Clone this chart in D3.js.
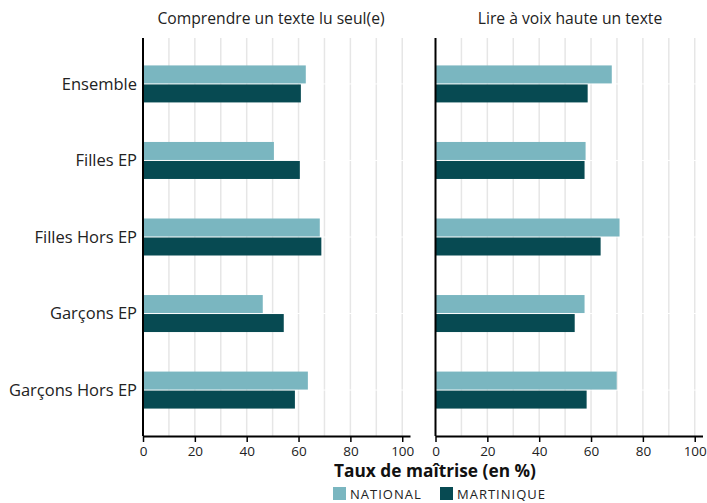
<!DOCTYPE html>
<html><head><meta charset="utf-8">
<script src="https://cdn.jsdelivr.net/npm/d3@7"></script>
<style>
html,body{margin:0;padding:0;background:#fff;}
svg{display:block;font-family:"Open Sans",sans-serif;}
</style></head>
<body><svg id="c" width="707" height="503"></svg>
<script>
const categories = ["Ensemble","Filles EP","Filles Hors EP","Garçons EP","Garçons Hors EP"];
const panels = ["Comprendre un texte lu seul(e)","Lire à voix haute un texte"];
const seriesNames = ["NATIONAL","MARTINIQUE"];
const colors = ["#7ab6c0","#074a52"];
const comprendreNational = [62.8, 50.5, 68.2, 46.2, 63.6];
const comprendreMartinique = [60.9, 60.5, 68.8, 54.3, 58.6];
const lireNational = [68.0, 57.9, 71.0, 57.5, 69.9];
const lireMartinique = [58.7, 57.5, 63.7, 53.7, 58.3];
const xTicks = [0,20,40,60,80,100];
const gridTicks = [10,20,30,40,50,60,70,80,90,100];
const axisTitle = "Taux de maîtrise (en %)";

const panelData = [
  [comprendreNational, comprendreMartinique],
  [lireNational, lireMartinique]
];

const svg = d3.select("#c");
const plotTop = 38, plotBottom = 436;
const panelX = [143, 435.5];
const panelW = 267;
const barH = 18, gap = 1;

const y = d3.scalePoint().domain(categories).range([plotTop, plotBottom]).padding(0.6);

panelData.forEach((series, pi) => {
  const x = d3.scaleLinear().domain([0, 103]).range([panelX[pi], panelX[pi] + panelW]);
  const g = svg.append("g");
  g.selectAll("line.grid").data(gridTicks).join("line")
    .attr("x1", d => x(d)).attr("x2", d => x(d))
    .attr("y1", plotTop).attr("y2", plotBottom)
    .attr("stroke", "#e6e6e6").attr("stroke-width", 1.5);
  g.selectAll("line.sep").data(categories).join("line")
    .attr("x1", x(0)).attr("x2", x(103))
    .attr("y1", d => y(d)).attr("y2", d => y(d))
    .attr("stroke", "#fff").attr("stroke-width", gap);
  series.forEach((vals, si) => {
    g.selectAll(null).data(vals).join("rect")
      .attr("x", x(0))
      .attr("y", (d, i) => si === 0 ? y(categories[i]) - gap/2 - barH : y(categories[i]) + gap/2)
      .attr("width", d => x(d) - x(0))
      .attr("height", barH)
      .attr("fill", colors[si]);
  });
  const ax = svg.append("g").attr("transform", `translate(0,${plotBottom})`)
    .call(d3.axisBottom(x).tickValues(xTicks).tickSize(6).tickPadding(4).tickSizeOuter(0));
  ax.select(".domain").attr("stroke", "#000").attr("stroke-width", 2);
  ax.selectAll(".tick line").attr("stroke", "#000").attr("stroke-width", 1.5);
  ax.selectAll(".tick text").attr("font-size", 13.5).attr("fill", "#222").attr("font-family", "'Open Sans',sans-serif");
  svg.append("line").attr("x1", x(0)).attr("x2", x(0)).attr("y1", plotTop).attr("y2", plotBottom)
    .attr("stroke", "#000").attr("stroke-width", 2);
  svg.append("text").attr("x", pi === 0 ? 271 : 570).attr("y", 24)
    .attr("text-anchor", "middle").attr("font-size", 15.7).attr("fill", "#222")
    .text(panels[pi]);
});

svg.selectAll("text.cat").data(categories).join("text")
  .attr("x", 137).attr("y", d => y(d)).attr("dy", "0.35em")
  .attr("text-anchor", "end").attr("font-size", 16.5).attr("fill", "#222")
  .text(d => d);

svg.append("text").attr("x", 435).attr("y", 477).attr("text-anchor", "middle")
  .attr("font-size", 17.3).attr("font-weight", "bold").attr("fill", "#111").text(axisTitle);

const legX = [333, 440];
seriesNames.forEach((s, i) => {
  svg.append("rect").attr("x", legX[i]).attr("y", 487).attr("width", 13).attr("height", 13).attr("fill", colors[i]);
  svg.append("text").attr("x", legX[i] + 17).attr("y", 499).attr("font-size", 13)
    .attr("letter-spacing", "1px").attr("fill", "#222").text(s);
});
</script></body></html>
